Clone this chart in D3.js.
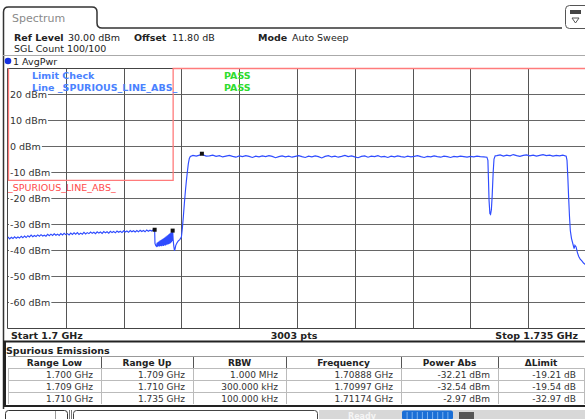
<!DOCTYPE html>
<html><head><meta charset="utf-8">
<script src="https://cdn.jsdelivr.net/npm/d3@7"></script>
<style>
body{margin:0;background:#fff}
svg{display:block;font-family:"DejaVu Sans",sans-serif}
</style></head><body>
<svg width="585" height="419"></svg>
<script>
// sweep
const fStart = 1.7, fStop = 1.735
const refLevel = 30, bottomLevel = -70
const yTicks = [20, 10, 0, -10, -20, -30, -40, -50, -60]

// trace (dBm). evenly swept parts kept as start / step / values
const lowBandStart = 1.7, lowBandStep = 0.0001
const lowBandPow = [
  -35.0,-35.7,-35.1,-35.6,-34.9,-35.5,-35.0,-35.4,-34.7,-35.3,
  -34.6,-35.2,-34.5,-35.0,-34.3,-34.9,-34.4,-34.8,-34.2,-34.7,
  -34.1,-34.6,-34.3,-34.7,-34.0,-34.5,-33.9,-34.4,-33.8,-34.3,
  -33.9,-34.4,-33.7,-34.2,-33.6,-34.1,-33.7,-34.2,-33.5,-34.0,
  -33.4,-33.9,-33.3,-34.0,-33.5,-33.9,-33.2,-33.8,-33.3,-33.7,
  -33.1,-33.6,-33.2,-33.7,-33.0,-33.5,-33.1,-33.6,-32.9,-33.4,
  -33.0,-33.5,-32.8,-33.3,-32.9,-33.4,-32.7,-33.2,-32.8,-33.3,
  -32.6,-33.1,-32.7,-33.2,-32.5,-33.0,-32.6,-33.1,-32.5,-33.0,
  -32.4,-32.9,-32.5,-33.0,-32.3,-32.8,-32.4,-32.7,-32.2
]
const midBandStart = 1.709, midBandStep = 0.00003
const midBandPow = [
  -38.6,-37.2,-38.7,-36.9,-38.5,-36.7,-38.6,-36.4,-38.4,-36.2,
  -38.5,-35.9,-38.3,-35.7,-38.4,-35.4,-38.2,-35.1,-38.3,-34.8,
  -38.0,-34.5,-37.9,-34.2,-37.8,-33.9,-37.6,-33.6,-37.4,-33.3,
  -37.0,-33.0,-36.5
]
const carrierStart = 1.7112, carrierStep = 0.0002
const carrierPow = [
  -3.6,-3.9,-3.5,-3.4,-3.9,-3.8,-3.5,-4.0,-3.7,-4.2,
  -3.9,-3.6,-4.0,-4.3,-3.8,-4.1,-3.7,-4.0,-4.4,-3.9,
  -4.2,-3.8,-4.1,-3.7,-4.0,-4.5,-4.1,-3.8,-4.2,-3.9,
  -4.3,-4.0,-3.7,-4.1,-4.4,-3.9,-4.2,-3.8,-4.1,-4.6,
  -4.0,-3.7,-4.2,-3.9,-4.3,-4.0,-3.6,-4.1,-3.8,-4.2,
  -4.5,-4.0,-3.8,-4.3,-3.9,-4.1,-3.7,-4.2,-4.0,-4.4,
  -3.9,-4.2,-3.8,-4.1,-4.3,-3.9,-4.2,-4.0,-3.7,-4.1,
  -4.4,-4.0,-4.2,-3.8,-4.1,-4.3,-3.9,-4.1,-4.4,-4.0,
  -4.2,-3.9,-4.1,-4.3,-4.0,-4.2,-3.9,-4.1,-4.2,-4.3
]
const carrier2Start = 1.7296, carrier2Step = 0.0002
const carrier2Pow = [
  -3.7,-3.4,-3.9,-3.5,-3.8,-3.3,-3.7,-4.0,-3.6,-3.4,-3.8,
  -3.5,-3.9,-3.6,-3.3,-3.7,-3.5,-3.9,-3.6,-3.8,-3.5,-3.9
]
// steep parts: [GHz, dBm]
const edgePoints = [
  [1.70890, -37.5], [1.70895, -38.3],
  [1.71000, -36.0], [1.71004, -38.5], [1.71008, -40.3], [1.71012, -39.5], [1.71016, -38.2],
  [1.71022, -37.4], [1.71030, -36.6], [1.71040, -36.0], [1.71050, -35.0], [1.71056, -31.5],
  [1.71062, -27.0], [1.71068, -22.0], [1.71074, -17.5], [1.71080, -13.5], [1.71086, -10.0],
  [1.71092, -6.8], [1.71098, -4.8], [1.71104, -4.0]
]
const notchPoints = [
  [1.72906, -5.5], [1.72909, -12.0], [1.72913, -21.0], [1.72918, -26.0], [1.72922, -26.3],
  [1.72927, -24.5], [1.72932, -19.0], [1.72938, -10.0], [1.72943, -5.0], [1.72950, -3.8]
]
const rollOffPoints = [
  [1.73385, -5.5], [1.73390, -12.0], [1.73395, -20.0], [1.73400, -27.0], [1.73405, -32.5],
  [1.73412, -35.5], [1.73420, -37.5], [1.73428, -39.5], [1.73433, -38.2], [1.73440, -38.8],
  [1.73448, -41.0], [1.73456, -42.5], [1.73465, -43.5], [1.73475, -44.2], [1.73485, -45.0],
  [1.73500, -45.8]
]

const limitFreq = [1.7, 1.7, 1.71, 1.71, 1.735]
const limitPow = [30, -13, -13, 30, 30]

const markerFreq = [1.70888, 1.70997, 1.71174]
const markerPow = [-32.21, -32.54, -2.97]

// result table
const tableHead = ["Range Low", "Range Up", "RBW", "Frequency", "Power Abs", "\u0394Limit"]
const rangeLow = ["1.700 GHz", "1.709 GHz", "1.710 GHz"]
const rangeUp = ["1.709 GHz", "1.710 GHz", "1.735 GHz"]
const rbw = ["1.000 MHz", "300.000 kHz", "100.000 kHz"]
const peakFreq = ["1.70888 GHz", "1.70997 GHz", "1.71174 GHz"]
const powerAbs = ["-32.21 dBm", "-32.54 dBm", "-2.97 dBm"]
const deltaLimit = ["-19.21 dB", "-19.54 dB", "-32.97 dB"]

const svg = d3.select("svg")
const W = 585

// plot box
const pl = 8, pr = 586, pt = 68, pb = 328
const x = d3.scaleLinear().domain([fStart, fStop]).range([pl, pr])
const y = d3.scaleLinear().domain([bottomLevel, refLevel]).range([pb, pt])

// ---- window frame + tab
svg.append("path")
  .attr("d", "M3.5,409 V12 Q3.5,7 8.5,7 H92 Q97,7 97,12 V23 Q97,28 102,28 H562")
  .attr("fill", "none").attr("stroke", "#333").attr("stroke-width", 1.5)
svg.append("text").attr("x", 12).attr("y", 22).attr("font-size", 11).attr("fill", "#8a8a8a").text("Spectrum")

// small icon top right
svg.append("rect").attr("x", 565.5).attr("y", 5.5).attr("width", 24).attr("height", 23).attr("rx", 4)
  .attr("fill", "#fff").attr("stroke", "#555")
svg.append("rect").attr("x", 570).attr("y", 10).attr("width", 11).attr("height", 4).attr("fill", "#444")
svg.append("path").attr("d", "M572,18 L579,18 L575.5,23 Z").attr("fill", "none").attr("stroke", "#555")

// header
const hdr = svg.append("g").attr("font-size", 9.5).attr("fill", "#222")
const line1 = [["Ref Level", 14, true], ["30.00 dBm", 68, false], ["Offset", 134, true],
  ["11.80 dB", 172, false], ["Mode", 258, true], ["Auto Sweep", 292, false]]
line1.forEach(d => {
  hdr.append("text").attr("x", d[1]).attr("y", 40.5).attr("font-weight", d[2] ? "bold" : "normal").text(d[0])
})
hdr.append("text").attr("x", 14).attr("y", 52).text("SGL Count 100/100")
svg.append("line").attr("x1", 3).attr("x2", W).attr("y1", 55.5).attr("y2", 55.5).attr("stroke", "#aaa")
svg.append("circle").attr("cx", 8).attr("cy", 61).attr("r", 3.3).attr("fill", "#1530e0")
svg.append("text").attr("x", 13).attr("y", 64.5).attr("font-size", 9.5).attr("fill", "#222").text("1 AvgPwr")

// ---- grid
const grid = svg.append("g")
const xGrid = d3.range(1, 10).map(k => fStart + k * (fStop - fStart) / 10)
grid.selectAll(".hg").data(yTicks).enter().append("line")
  .attr("x1", pl).attr("x2", pr)
  .attr("y1", d => Math.round(y(d)) + 0.5).attr("y2", d => Math.round(y(d)) + 0.5)
  .attr("stroke", "#666")
grid.selectAll(".vg").data(xGrid).enter().append("line")
  .attr("y1", pt).attr("y2", pb)
  .attr("x1", d => Math.round(x(d)) + 0.5).attr("x2", d => Math.round(x(d)) + 0.5)
  .attr("stroke", "#555")

// frame of the diagram
svg.append("path").attr("d", `M${pr},${pt + 0.5} H${pl - 0.5} V${pb + 0.5} H${pr}`)
  .attr("fill", "none").attr("stroke", "#444")

// y labels with white background
const yl = svg.append("g").attr("font-size", 9.5).attr("fill", "#333")
yTicks.forEach(d => {
  const t = yl.append("text").attr("x", 10).attr("y", Math.round(y(d)) + 4).text(d + " dBm")
  const w = t.node().getComputedTextLength()
  yl.insert("rect", "text").attr("x", 9).attr("y", Math.round(y(d)) - 5).attr("width", w + 2).attr("height", 10).attr("fill", "#fff")
})

// ---- limit line
const limitData = limitFreq.map((f, i) => [f, limitPow[i]])
svg.append("path").datum(limitData)
  .attr("d", d3.line().x(d => x(d[0]) + (d[0] === fStart ? 0.5 : 0)).y(d => y(d[1]) + 0.5))
  .attr("fill", "none").attr("stroke", "#ff7b7b").attr("stroke-width", 1.3)
svg.append("text").attr("x", 8).attr("y", 191).attr("font-size", 9.5).attr("fill", "#ff4a4a").text("_SPURIOUS_LINE_ABS_")

// limit check info
const lc = svg.append("g").attr("font-size", 9.5).attr("font-weight", "bold")
lc.append("text").attr("x", 32).attr("y", 78.5).attr("fill", "#4a82ff").text("Limit Check")
lc.append("text").attr("x", 32).attr("y", 91).attr("fill", "#4a82ff").text("Line _SPURIOUS_LINE_ABS_")
lc.append("text").attr("x", 224).attr("y", 78.5).attr("fill", "#2fdc2f").text("PASS")
lc.append("text").attr("x", 224).attr("y", 91).attr("fill", "#2fdc2f").text("PASS")

// ---- trace
const trace = [
  ...lowBandPow.map((p, i) => [lowBandStart + i * lowBandStep, p]),
  ...midBandPow.map((p, i) => [midBandStart + i * midBandStep, p]),
  ...carrierPow.map((p, i) => [carrierStart + i * carrierStep, p]),
  ...carrier2Pow.map((p, i) => [carrier2Start + i * carrier2Step, p]),
  ...edgePoints, ...notchPoints, ...rollOffPoints,
  ...markerFreq.map((f, i) => [f, markerPow[i]])
].sort((a, b) => a[0] - b[0])

svg.append("path").datum(trace)
  .attr("d", d3.line().x(d => x(d[0])).y(d => y(d[1])))
  .attr("fill", "none").attr("stroke", "#2f4cff").attr("stroke-width", 1.15)

// markers
svg.selectAll(".mk").data(markerFreq).enter().append("rect")
  .attr("x", d => x(d) - 2).attr("y", (d, i) => y(markerPow[i]) - 2)
  .attr("width", 4).attr("height", 4).attr("fill", "#111")

// ---- footer of diagram
const ft = svg.append("g").attr("font-size", 9.5).attr("font-weight", "bold").attr("fill", "#222")
ft.append("text").attr("x", 11).attr("y", 338.5).text("Start 1.7 GHz")
ft.append("text").attr("x", 294).attr("y", 338.5).attr("text-anchor", "middle").text("3003 pts")
ft.append("text").attr("x", 578).attr("y", 338.5).attr("text-anchor", "end").text("Stop 1.735 GHz")
svg.append("line").attr("x1", 3).attr("x2", W).attr("y1", 341.5).attr("y2", 341.5).attr("stroke", "#222").attr("stroke-width", 2)

// ---- spurious table
svg.append("line").attr("x1", 4.5).attr("x2", 4.5).attr("y1", 341).attr("y2", 407).attr("stroke", "#222").attr("stroke-width", 3)
svg.append("text").attr("x", 6).attr("y", 353.5).attr("font-size", 9.5).attr("font-weight", "bold").attr("fill", "#222").text("Spurious Emissions")

const colEdge = [8, 101, 193, 286, 401, 498, 584]
const rowTop = 356, rowH = 12
const columns = [rangeLow, rangeUp, rbw, peakFreq, powerAbs, deltaLimit]
const tb = svg.append("g").attr("font-size", 9).attr("fill", "#333")

tb.append("line").attr("x1", colEdge[0]).attr("x2", colEdge[6]).attr("y1", rowTop + 0.5).attr("y2", rowTop + 0.5).attr("stroke", "#999")
tableHead.forEach((h, c) => {
  tb.append("text").attr("x", (colEdge[c] + colEdge[c + 1]) / 2).attr("y", rowTop + 9.5)
    .attr("text-anchor", "middle").attr("font-weight", "bold").attr("fill", "#222").text(h)
  if (c > 0) tb.append("line").attr("x1", colEdge[c] + 0.5).attr("x2", colEdge[c] + 0.5)
    .attr("y1", rowTop + 1).attr("y2", rowTop + rowH).attr("stroke", "#555")
})
for (let r = 0; r < 3; r++) {
  const top = rowTop + rowH * (r + 1)
  tb.append("line").attr("x1", colEdge[0]).attr("x2", colEdge[6]).attr("y1", top + 0.5).attr("y2", top + 0.5).attr("stroke", "#bbb")
  columns.forEach((col, c) => {
    tb.append("text").attr("x", colEdge[c + 1] - 8).attr("y", top + 9.5).attr("text-anchor", "end").text(col[r])
    tb.append("line").attr("x1", colEdge[c] + 0.5).attr("x2", colEdge[c] + 0.5)
      .attr("y1", top).attr("y2", top + rowH).attr("stroke", "#bbb")
  })
  tb.append("line").attr("x1", colEdge[6] + 0.5).attr("x2", colEdge[6] + 0.5)
    .attr("y1", top).attr("y2", top + rowH).attr("stroke", "#bbb")
}
svg.append("line").attr("x1", 3).attr("x2", W).attr("y1", 406).attr("y2", 406).attr("stroke", "#222").attr("stroke-width", 2)

// ---- status bar
const sb = svg.append("g")
sb.append("rect").attr("x", 5.5).attr("y", 410.5).attr("width", 62).attr("height", 14).attr("rx", 3).attr("fill", "#fff").attr("stroke", "#333")
sb.append("line").attr("x1", 55.5).attr("x2", 55.5).attr("y1", 411).attr("y2", 419).attr("stroke", "#999")
sb.append("line").attr("x1", 69.5).attr("x2", 69.5).attr("y1", 410).attr("y2", 419).attr("stroke", "#777")
sb.append("line").attr("x1", 71.5).attr("x2", 71.5).attr("y1", 410).attr("y2", 419).attr("stroke", "#777")
sb.append("rect").attr("x", 73.5).attr("y", 410.5).attr("width", 244).attr("height", 14).attr("rx", 3).attr("fill", "#fff").attr("stroke", "#444")
sb.append("rect").attr("x", 319).attr("y", 410).attr("width", 266).attr("height", 9).attr("fill", "#d8d8d8")
sb.append("text").attr("x", 348).attr("y", 419).attr("font-size", 8).attr("fill", "#f4f4f4").attr("font-weight", "bold").text("Ready")
sb.append("rect").attr("x", 402).attr("y", 410.5).attr("width", 51).attr("height", 9).attr("rx", 2).attr("fill", "#1b6fd6")
d3.range(1, 10).forEach(k => sb.append("line").attr("x1", 402 + k * 5.1).attr("x2", 402 + k * 5.1)
  .attr("y1", 412).attr("y2", 419).attr("stroke", "#8fc0f5").attr("stroke-width", 0.8))
sb.append("rect").attr("x", 459).attr("y", 412).attr("width", 15).attr("height", 7).attr("fill", "#555")
</script>
</body></html>
